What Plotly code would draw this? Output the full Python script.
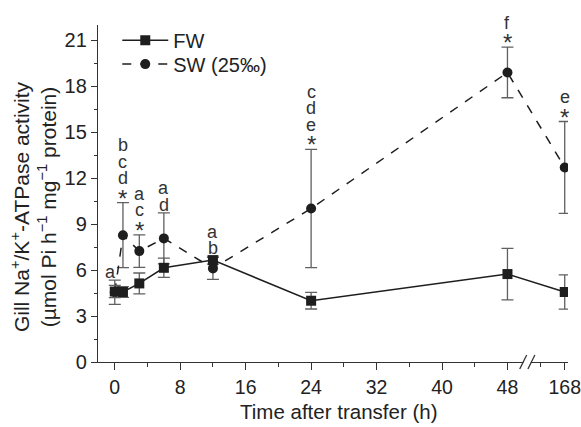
import plotly.graph_objects as go

# ---- data ----
times = [0, 1, 3, 6, 12, 24, 48, 168]
fw_mean = [4.6, 4.57, 5.13, 6.15, 6.65, 4.0, 5.74, 4.57]
fw_err = [0.4, 0.35, 0.68, 0.63, 0.26, 0.54, 1.68, 1.12]
sw_mean = [4.55, 8.28, 7.24, 8.07, 6.11, 10.02, 18.9, 12.7]
sw_err = [0.79, 2.12, 1.06, 1.67, 0.72, 3.86, 1.65, 3.0]
# significance letters (bottom to top) per time point
sig_labels = {0: ['a'], 1: ['*', 'd', 'c', 'b'], 3: ['*', 'c', 'a'], 6: ['d', 'a'],
              12: ['b', 'a'], 24: ['*', 'e', 'd', 'c'], 48: ['*', 'f'], 168: ['*', 'e']}
x_tick_vals = [0, 8, 16, 24, 32, 40, 48, 168]
y_tick_vals = [0, 3, 6, 9, 12, 15, 18, 21]

BREAK_POS = 55  # axis position used for 168 h (after the axis break)


def xpos(t):
    return t if t <= 48 else BREAK_POS


xs = [xpos(t) for t in times]
FONT = "Liberation Sans, Arial, sans-serif"
INK = "#1e1e1e"
ERR = "#606060"

fig = go.Figure()
fig.add_trace(go.Scatter(
    x=xs, y=sw_mean, name="SW (25‰)", mode="lines+markers", legend="legend2",
    line=dict(color=INK, width=1.5, dash="dash"),
    marker=dict(symbol="circle", size=10, color=INK),
    error_y=dict(type="data", array=sw_err, color=ERR, thickness=1.3, width=6),
))
fig.add_trace(go.Scatter(
    x=xs, y=fw_mean, name="FW", mode="lines+markers", legend="legend",
    line=dict(color=INK, width=1.5),
    marker=dict(symbol="square", size=10, color=INK),
    error_y=dict(type="data", array=fw_err, color=ERR, thickness=1.3, width=6),
))

# significance letters stacked above the error bars
for t, labels in sig_labels.items():
    i = times.index(t)
    top = max(sw_mean[i] + sw_err[i], fw_mean[i] + fw_err[i])
    for k, lab in enumerate(labels):
        star = lab == '*'
        fig.add_annotation(
            x=xpos(t), y=top, xref="x", yref="y", text=lab, showarrow=False,
            yanchor="bottom", xanchor="center",
            yshift=-4 + 16.5 * k + (-7 if star else 0),
            xshift=-4 if t == 0 else 0,
            font=dict(family=FONT, size=24 if star else 18, color="#333"),
        )

# axis titles
fig.add_annotation(
    xref="paper", yref="paper", x=-0.136, y=0.46, showarrow=False,
    text="Gill Na<sup>+</sup>/K<sup>+</sup>-ATPase activity<br>(µmol Pi h<sup>−1</sup> mg<sup>−1</sup> protein)",
    textangle=-90, font=dict(family=FONT, size=21, color="#222"),
    xanchor="center", yanchor="middle",
)
fig.add_annotation(
    xref="paper", yref="paper", x=0.512, y=-0.148, showarrow=False,
    text="Time after transfer (h)", font=dict(family=FONT, size=20.5, color="#222"),
    xanchor="center", yanchor="middle",
)

# axis break marks
fig.add_shape(type="rect", xref="x", yref="paper", x0=49.95, x1=50.85, y0=-0.006, y1=0.006,
              fillcolor="white", line=dict(width=0), layer="above")
for x0 in (49.5, 50.5):
    fig.add_shape(type="line", xref="x", yref="paper", x0=x0, x1=x0 + 0.85,
                  y0=-0.021, y1=0.021, line=dict(color="#333", width=1.3), layer="above")

legend_style = dict(xanchor="left", yanchor="middle", font=dict(size=20),
                    bgcolor="rgba(0,0,0,0)", itemwidth=46)
fig.update_layout(
    width=581, height=427,
    margin=dict(l=98, r=13, t=25, b=65, autoexpand=False),
    plot_bgcolor="white", paper_bgcolor="white",
    font=dict(family=FONT, size=20, color="#222"),
    showlegend=True,
    legend=dict(x=0.041, y=0.955, **legend_style),
    legend2=dict(x=0.041, y=0.884, **legend_style),
)
fig.update_xaxes(
    range=[-2.05, 55.4], tickmode="array", tickvals=[xpos(v) for v in x_tick_vals],
    ticktext=[str(v) for v in x_tick_vals], ticks="outside", ticklen=7, tickwidth=1.3,
    tickcolor="#333", showline=True, linecolor="#333", linewidth=1.3, automargin=False,
    showgrid=False, zeroline=False, ticklabeloverflow="allow",
    tickfont=dict(size=19.5),
    minor=dict(tickmode="linear", tick0=0, dtick=4, ticks="outside", ticklen=4,
               tickwidth=1.2, tickcolor="#333", showgrid=False),
)
fig.update_yaxes(
    range=[0, 22], tickmode="array", tickvals=y_tick_vals, ticks="outside", ticklen=6,
    tickwidth=1.3, tickcolor="#333", showline=True, linecolor="#333", linewidth=1.3,
    showgrid=False, zeroline=False, automargin=False,
    minor=dict(tickmode="linear", tick0=0, dtick=1.5, ticks="outside", ticklen=3,
               tickwidth=1.2, tickcolor="#333", showgrid=False),
)

fig.write_html(
    "out.html",
    config={"displayModeBar": False},
    post_script="document.body.style.margin='0';document.body.style.overflow='hidden';",
)
